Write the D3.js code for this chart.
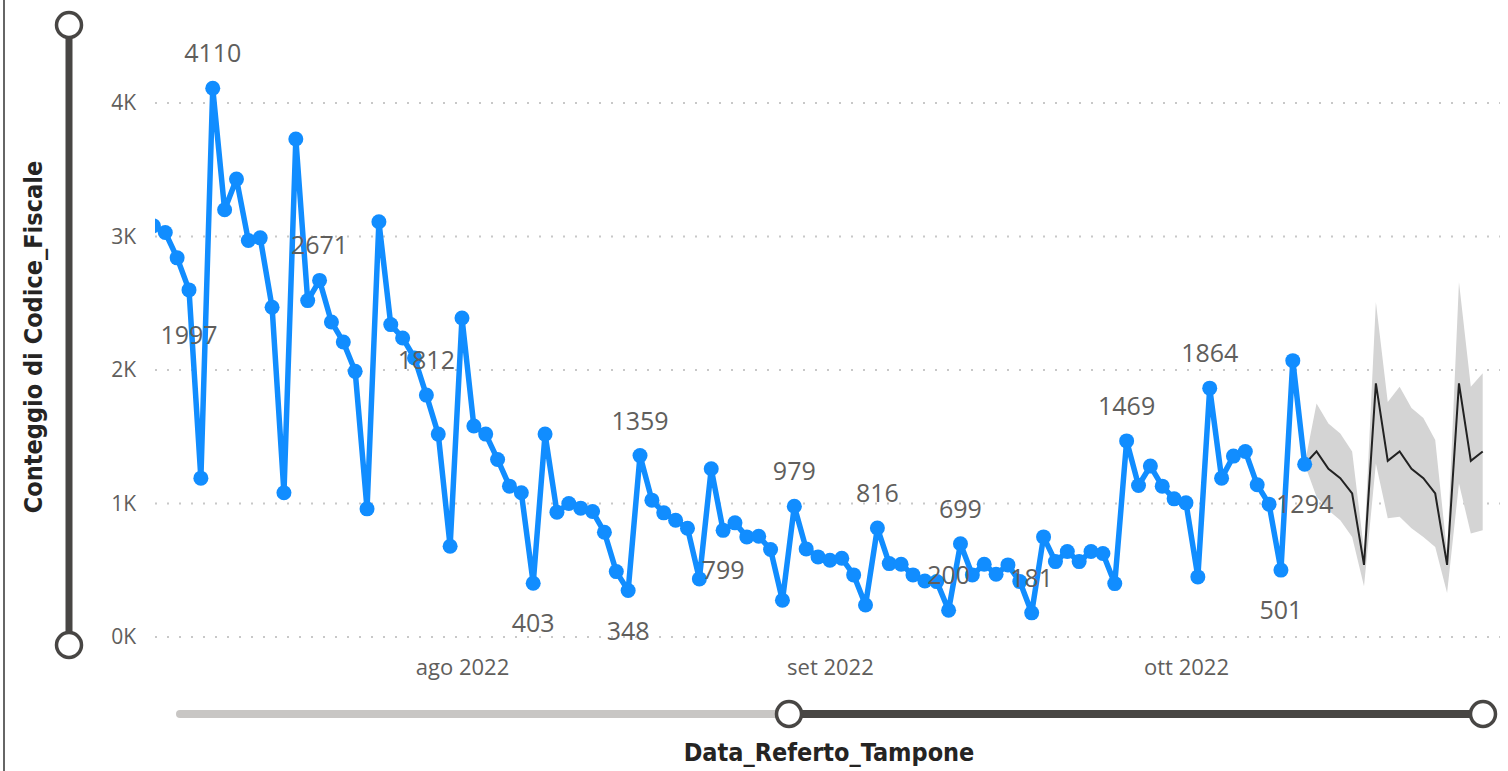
<!DOCTYPE html>
<html><head><meta charset="utf-8">
<script src="https://cdn.jsdelivr.net/npm/d3@7"></script>
<style>
html,body{margin:0;padding:0;background:#fff;overflow:hidden}
svg{display:block}
</style></head>
<body>
<svg id="chart" width="1508" height="771"></svg>
<script>
// ---------------- DATA ----------------
const startDate = "2022-07-06";
const counts = [
 3080,3030,2840,2600,1190,4110,3200,3430,2970,2990,2470,1080,3730,2520,2671,2360,2210,1990,960,3110,
 2340,2240,2090,1812,1520,680,2390,1580,1520,1330,1130,1080,403,1520,935,1000,965,940,785,490,
 348,1359,1025,930,875,815,435,1260,799,855,750,755,655,275,979,660,600,575,590,465,
 240,816,550,545,465,420,415,200,699,465,545,470,540,415,181,750,565,640,565,640,
 625,400,1469,1135,1280,1130,1035,1005,450,1864,1190,1355,1390,1140,995,501,2070,1294
];
const forecastStart = "2022-10-11";
const forecast      = [1294,1390,1260,1190,1075,540,1900,1320,1390,1260,1190,1075,540,1900,1320,1390];
const forecastUpper = [1294,1750,1600,1525,1390,650,2510,1760,1875,1715,1640,1475,630,2660,1875,1975];
const forecastLower = [1294,1050,950,875,750,380,1300,890,900,815,750,675,330,1150,775,800];
// data labels: date, value, text
const labelDates  = ["2022-07-11","2022-07-09","2022-07-20","2022-07-29","2022-08-07","2022-08-15","2022-08-16","2022-08-23","2022-08-29","2022-09-05","2022-09-11","2022-09-12","2022-09-18","2022-09-26","2022-10-03","2022-10-09","2022-10-11"];
const labelValues = [4110,1997,2671,1812,403,348,1359,799,979,816,200,699,181,1469,1864,501,1294];
const labelBelow  = [false,false,false,false,true,true,false,true,false,false,false,false,false,false,false,true,true];
const yTicks = [0,1000,2000,3000,4000];
const xTickDates = ["2022-08-01","2022-09-01","2022-10-01"];
const yTitle = "Conteggio di Codice_Fiscale";
const xTitle = "Data_Referto_Tampone";

// ---------------- SETUP ----------------
const parse = d3.utcParse("%Y-%m-%d");
const it = d3.timeFormatLocale({
  dateTime:"%A %e %B %Y, %X", date:"%d/%m/%Y", time:"%H:%M:%S", periods:["AM","PM"],
  days:["domenica","lunedì","martedì","mercoledì","giovedì","venerdì","sabato"],
  shortDays:["dom","lun","mar","mer","gio","ven","sab"],
  months:["gennaio","febbraio","marzo","aprile","maggio","giugno","luglio","agosto","settembre","ottobre","novembre","dicembre"],
  shortMonths:["gen","feb","mar","apr","mag","giu","lug","ago","set","ott","nov","dic"]
});
const fmtMonth = it.utcFormat("%b %Y");

const s0 = parse(startDate);
const series = counts.map((v,i)=>({date:d3.utcDay.offset(s0,i), value:v}));
const f0 = parse(forecastStart);
const fseries = forecast.map((v,i)=>({date:d3.utcDay.offset(f0,i), value:v, hi:forecastUpper[i], lo:forecastLower[i]}));

const svg = d3.select("#chart");
const x = d3.scaleUtc().domain([parse("2022-07-06"), parse("2022-10-26")]).range([153.4, 1482.7]);
const y = d3.scaleLinear().domain([0,4000]).range([637,103]);

const PLOT_L = 155, PLOT_R = 1500;
const labelFont = "'Segoe UI','Open Sans',sans-serif";
const titleFont = "'DejaVu Sans Condensed','DejaVu Sans',sans-serif";

// left border
svg.append("line").attr("x1",4).attr("x2",4).attr("y1",0).attr("y2",771)
  .attr("stroke","#333").attr("stroke-width",1.5);

// gridlines
svg.append("g").selectAll("line").data(yTicks).join("line")
  .attr("x1",PLOT_L).attr("x2",PLOT_R)
  .attr("y1",d=>y(d)).attr("y2",d=>y(d))
  .attr("stroke","#c8c8c8").attr("stroke-width",2)
  .attr("stroke-dasharray","2,10").attr("stroke-linecap","butt");

// y axis
const yAxis = svg.append("g").attr("transform","translate(136,0)")
  .call(d3.axisLeft(y).tickValues(yTicks).tickSize(0).tickPadding(0).tickFormat(d=>(d/1000)+"K"));
yAxis.select(".domain").remove();
yAxis.selectAll("text").attr("fill","#605E5C").style("font-family",labelFont).style("font-size","21px");

// x axis
const xAxis = svg.append("g").attr("transform","translate(0,659)")
  .call(d3.axisBottom(x).tickValues(xTickDates.map(parse)).tickSize(0).tickPadding(0).tickFormat(fmtMonth));
xAxis.select(".domain").remove();
xAxis.selectAll("text").attr("fill","#605E5C").attr("dy","0.71em").style("font-family",labelFont).style("font-size","22px");

// clip
svg.append("clipPath").attr("id","plotclip").append("rect")
  .attr("x",PLOT_L).attr("y",0).attr("width",PLOT_R-PLOT_L).attr("height",680);
const plot = svg.append("g").attr("clip-path","url(#plotclip)");

// forecast band
plot.append("path").datum(fseries)
  .attr("d", d3.area().x(d=>x(d.date)).y0(d=>y(d.lo)).y1(d=>y(d.hi)))
  .attr("fill","#d4d4d4");
plot.append("path").datum(fseries)
  .attr("d", d3.line().x(d=>x(d.date)).y(d=>y(d.value)))
  .attr("fill","none").attr("stroke","#222").attr("stroke-width",2);

// main line
plot.append("path").datum(series)
  .attr("d", d3.line().x(d=>x(d.date)).y(d=>y(d.value)))
  .attr("fill","none").attr("stroke","#118DFF").attr("stroke-width",5.5).attr("stroke-linejoin","round");
plot.append("g").selectAll("circle").data(series).join("circle")
  .attr("cx",d=>x(d.date)).attr("cy",d=>y(d.value)).attr("r",7.5).attr("fill","#118DFF");

// data labels
svg.append("g").selectAll("text").data(labelDates.map((d,i)=>({date:parse(d), value:labelValues[i], below:labelBelow[i]})))
  .join("text")
  .attr("x",d=>x(d.date))
  .attr("y",d=>y(d.value) + (d.below ? 40 : -35))
  .attr("dy","0.36em")
  .attr("text-anchor","middle")
  .attr("fill","#605E5C")
  .style("font-family",labelFont).style("font-size","25px")
  .text(d=>d.value);

// y zoom slider
svg.append("line").attr("x1",69).attr("x2",69).attr("y1",25).attr("y2",645)
  .attr("stroke","#484644").attr("stroke-width",7);
svg.append("g").selectAll("circle").data([25,645]).join("circle")
  .attr("cx",69).attr("cy",d=>d).attr("r",12.5)
  .attr("fill","#fff").attr("stroke","#484644").attr("stroke-width",3.5);

// x zoom slider
svg.append("line").attr("x1",180).attr("x2",789).attr("y1",714).attr("y2",714)
  .attr("stroke","#c8c6c4").attr("stroke-width",8).attr("stroke-linecap","round");
svg.append("line").attr("x1",789).attr("x2",1483).attr("y1",714).attr("y2",714)
  .attr("stroke","#484644").attr("stroke-width",8);
svg.append("g").selectAll("circle").data([789,1483]).join("circle")
  .attr("cx",d=>d).attr("cy",714).attr("r",12.5)
  .attr("fill","#fff").attr("stroke","#484644").attr("stroke-width",3.5);

// titles
svg.append("text").attr("transform","translate(33,337) rotate(-90)")
  .attr("text-anchor","middle").attr("dy","0.36em")
  .attr("fill","#252423").attr("font-weight","bold")
  .style("font-family",titleFont).style("font-size","25px")
  .text(yTitle);
svg.append("text").attr("x",829).attr("y",752)
  .attr("text-anchor","middle").attr("dy","0.36em")
  .attr("fill","#252423").attr("font-weight","bold")
  .style("font-family",titleFont).style("font-size","25px")
  .text(xTitle);
</script>
</body></html>
